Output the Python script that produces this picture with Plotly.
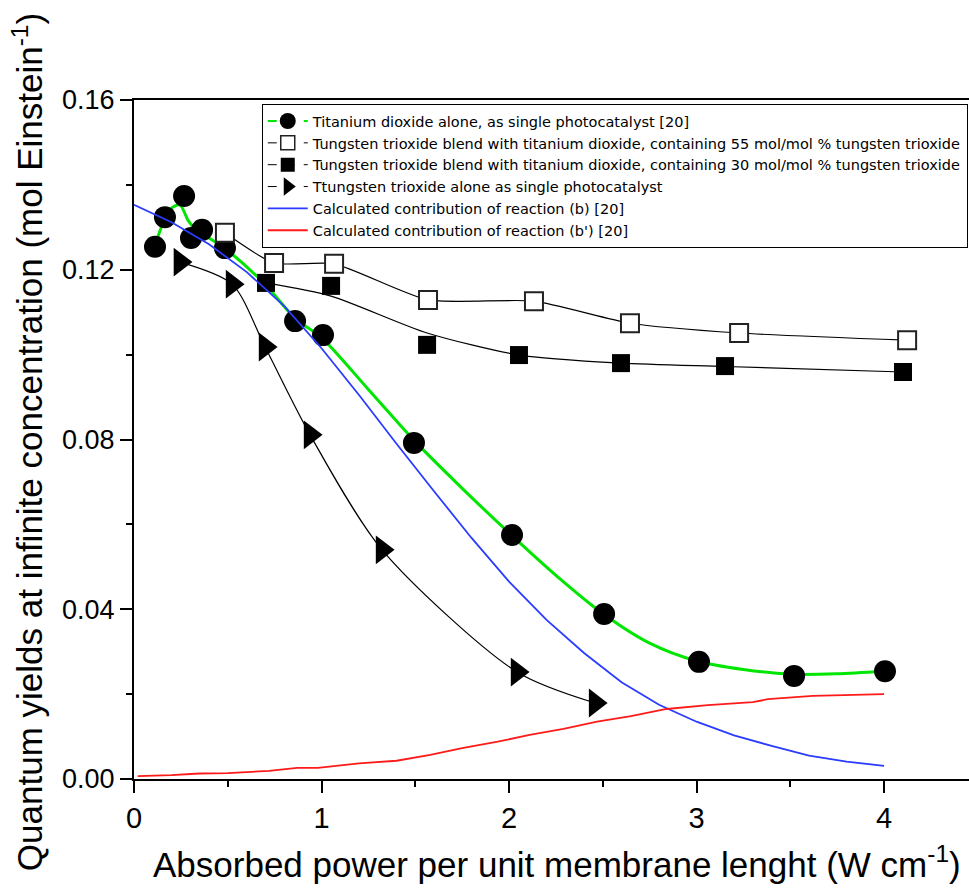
import plotly.graph_objects as go

# ---------------- data ----------------
tio2_x = [0.112, 0.165, 0.267, 0.304, 0.363, 0.485, 0.859, 1.008, 1.493, 2.016, 2.507, 3.013, 3.52, 4.005]
tio2_y = [0.1254, 0.1324, 0.1374, 0.1275, 0.1294, 0.1251, 0.1079, 0.1046, 0.0792, 0.0575, 0.0389, 0.0276, 0.0243, 0.0254]

tio2_fit_x = [0.125, 0.16, 0.20, 0.245, 0.29, 0.34, 0.40, 0.50, 0.70, 0.86, 1.0, 1.25, 1.5, 1.75, 2.0, 2.25, 2.5, 2.75, 3.0, 3.25, 3.5, 3.75, 4.0]
tio2_fit_y = [0.1275, 0.1315, 0.1345, 0.1353, 0.1315, 0.1290, 0.1275, 0.1245, 0.1165, 0.1085, 0.1040, 0.0918, 0.0795, 0.0685, 0.0580, 0.0480, 0.0390, 0.0320, 0.0278, 0.0258, 0.0247, 0.0248, 0.0254]

w55_x = [0.485, 0.747, 1.067, 1.568, 2.133, 2.645, 3.227, 4.123]
w55_y = [0.1287, 0.1216, 0.1214, 0.1129, 0.1126, 0.1074, 0.1051, 0.1034]

w30_x = [0.704, 1.051, 1.563, 2.053, 2.597, 3.152, 4.101]
w30_y = [0.1169, 0.1162, 0.1023, 0.0999, 0.0980, 0.0973, 0.0959]
w30_fit_x = [0.704, 1.051, 1.563, 2.053, 2.597, 3.152, 4.101]
w30_fit_y = [0.1169, 0.1138, 0.1051, 0.0999, 0.0980, 0.0972, 0.0959]

wo3_x = [0.245, 0.523, 0.699, 0.939, 1.323, 2.043, 2.459]
wo3_y = [0.1218, 0.1166, 0.1018, 0.0811, 0.0540, 0.0252, 0.0179]

b_x = [0.0, 0.2, 0.4, 0.6, 0.8, 1.0, 1.2, 1.4, 1.6, 1.8, 2.0, 2.2, 2.4, 2.6, 2.8, 3.0, 3.2, 3.4, 3.6, 3.8, 4.0]
b_y = [0.1353, 0.1312, 0.1260, 0.1195, 0.1115, 0.1015, 0.0905, 0.0790, 0.0678, 0.0568, 0.0465, 0.0375, 0.0297, 0.0228, 0.0175, 0.0135, 0.0103, 0.0078, 0.0055, 0.0041, 0.0031]

bp_x = [0.02, 0.2, 0.35, 0.5, 0.72, 0.87, 0.98, 1.2, 1.4, 1.58, 1.75, 1.94, 2.11, 2.29, 2.47, 2.65, 2.84, 3.06, 3.3, 3.38, 3.62, 3.86, 4.0]
bp_y = [0.0007, 0.0009, 0.0013, 0.0014, 0.0019, 0.0026, 0.0026, 0.0037, 0.0043, 0.0057, 0.0073, 0.0088, 0.0104, 0.0118, 0.0135, 0.0148, 0.0165, 0.0174, 0.0181, 0.0188, 0.0196, 0.0198, 0.0200]

names = [
    "Titanium dioxide alone, as single photocatalyst [20]",
    "Tungsten trioxide blend with titanium dioxide, containing 55 mol/mol % tungsten trioxide",
    "Tungsten trioxide blend with titanium dioxide, containing 30 mol/mol % tungsten trioxide",
    "Ttungsten trioxide alone as single photocatalyst",
    "Calculated contribution of reaction (b) [20]",
    "Calculated contribution of reaction (b') [20]",
]

GREEN = "#00e600"
BLUE = "#2a3cff"
RED = "#ff1a1a"
FONT = "Liberation Sans, Arial, sans-serif"

fig = go.Figure()

# plotted marks (legend hidden)
fig.add_trace(go.Scatter(x=tio2_fit_x, y=tio2_fit_y, mode="lines", line=dict(color=GREEN, width=3, shape="spline", smoothing=0.8), showlegend=False))
fig.add_trace(go.Scatter(x=tio2_x, y=tio2_y, mode="markers", marker=dict(symbol="circle", size=22, color="black"), showlegend=False))
fig.add_trace(go.Scatter(x=w55_x, y=w55_y, mode="lines", line=dict(color="black", width=1.2, shape="spline", smoothing=0.6), showlegend=False))
fig.add_trace(go.Scatter(x=w30_fit_x, y=w30_fit_y, mode="lines", line=dict(color="black", width=1.2, shape="spline", smoothing=0.7), showlegend=False))
fig.add_trace(go.Scatter(x=wo3_x, y=wo3_y, mode="lines", line=dict(color="black", width=1.2, shape="spline", smoothing=0.8), showlegend=False))
fig.add_trace(go.Scatter(x=w55_x, y=w55_y, mode="markers", marker=dict(symbol="square", size=18, color="white", line=dict(color="#222", width=2)), showlegend=False))
fig.add_trace(go.Scatter(x=w30_x, y=w30_y, mode="markers", marker=dict(symbol="square", size=18, color="black"), showlegend=False))
fig.add_trace(go.Scatter(x=wo3_x, y=wo3_y, mode="markers", marker=dict(symbol="triangle-right", size=25, color="black"), showlegend=False))
fig.add_trace(go.Scatter(x=b_x, y=b_y, mode="lines", line=dict(color=BLUE, width=1.8), showlegend=False))
fig.add_trace(go.Scatter(x=bp_x, y=bp_y, mode="lines", line=dict(color=RED, width=1.8), showlegend=False))

# legend entries
fig.add_trace(go.Scatter(x=[None], y=[None], mode="lines+markers", name=names[0],
                         line=dict(color=GREEN, width=2, dash="dash"), marker=dict(symbol="circle", size=16, color="black")))
fig.add_trace(go.Scatter(x=[None], y=[None], mode="lines+markers", name=names[1],
                         line=dict(color="black", width=1, dash="dash"), marker=dict(symbol="square", size=14, color="white", line=dict(color="#222", width=1.5))))
fig.add_trace(go.Scatter(x=[None], y=[None], mode="lines+markers", name=names[2],
                         line=dict(color="black", width=1, dash="dash"), marker=dict(symbol="square", size=14, color="black")))
fig.add_trace(go.Scatter(x=[None], y=[None], mode="lines+markers", name=names[3],
                         line=dict(color="black", width=1, dash="dash"), marker=dict(symbol="triangle-right", size=16, color="black")))
fig.add_trace(go.Scatter(x=[None], y=[None], mode="lines", name=names[4], line=dict(color=BLUE, width=1.8)))
fig.add_trace(go.Scatter(x=[None], y=[None], mode="lines", name=names[5], line=dict(color=RED, width=1.8)))

fig.update_layout(
    width=969, height=895,
    margin=dict(l=134, r=0, t=100, b=116, autoexpand=False),
    plot_bgcolor="white", paper_bgcolor="white",
    font=dict(family=FONT, color="black"),
    legend=dict(x=0.153, y=0.994, xanchor="left", yanchor="top",
                bordercolor="black", borderwidth=1, bgcolor="white",
                font=dict(size=14.5, family="DejaVu Sans"), tracegroupgap=0, itemwidth=40),
    annotations=[
        dict(text="Absorbed power per unit membrane lenght (W cm<sup>-1</sup>)", xref="paper", yref="paper",
             x=0.506, y=-0.122, xanchor="center", yanchor="middle", showarrow=False,
             font=dict(size=35, family=FONT)),
        dict(text="Quantum yields at infinite concentration (mol Einstein<sup>-1</sup>)", xref="paper", yref="paper",
             x=-0.127, y=0.496, xanchor="center", yanchor="middle", textangle=-90, showarrow=False,
             font=dict(size=35, family=FONT)),
    ],
)

fig.update_xaxes(range=[0, 4.453], dtick=1, tick0=0, showgrid=False, zeroline=False,
                 showline=True, linecolor="black", linewidth=2, mirror=True,
                 ticks="outside", ticklen=12, tickwidth=2, tickcolor="black",
                 tickfont=dict(size=29, family=FONT),
                 minor=dict(dtick=0.5, ticks="outside", ticklen=6, tickwidth=2, tickcolor="black"))
fig.update_yaxes(range=[0, 0.16], dtick=0.04, tick0=0, tickformat=".2f", showgrid=False, zeroline=False,
                 showline=True, linecolor="black", linewidth=2, mirror=False,
                 ticks="outside", ticklen=12, tickwidth=2, tickcolor="black",
                 tickfont=dict(size=27, family=FONT),
                 minor=dict(dtick=0.02, ticks="outside", ticklen=6, tickwidth=2, tickcolor="black"))

fig.write_html("out.html", config={"displayModeBar": False},
               post_script="document.body.style.margin='0';document.body.style.overflow='hidden';")
